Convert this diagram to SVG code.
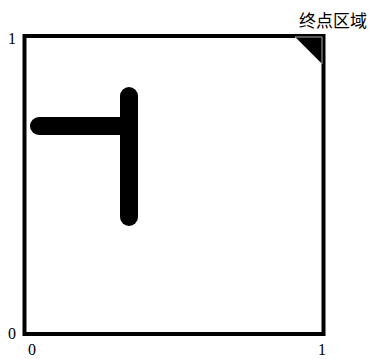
<svg xmlns="http://www.w3.org/2000/svg" width="370" height="359" viewBox="0 0 370 359">
<style>
.lbl{font-family:"Liberation Serif","DejaVu Serif",serif;font-size:16px;fill:#000}
.cjk{font-family:"Noto Sans CJK SC",sans-serif;font-size:17px;fill:#000}
.wall{stroke:#000;stroke-width:18;stroke-linecap:round;fill:none}
</style>
<rect width="370" height="359" fill="#fff"/>
<g id="field">
<rect x="24.5" y="36" width="299" height="298" fill="none" stroke="#000" stroke-width="4"/>
</g>
<g id="goal">
<polygon points="295,37 322,37 322,64" fill="#000" stroke="#aaa" stroke-width="1"/>
<text class="cjk" x="299" y="27">终点区域</text>
</g>
<g id="walls">
<line class="wall" x1="39" y1="126" x2="129" y2="126"/>
<line class="wall" x1="129" y1="96" x2="129" y2="217"/>
</g>
<g id="axes">
<text class="lbl" x="8" y="44">1</text>
<text class="lbl" x="8" y="339">0</text>
<text class="lbl" x="28" y="355">0</text>
<text class="lbl" x="318" y="355">1</text>
</g>
</svg>
